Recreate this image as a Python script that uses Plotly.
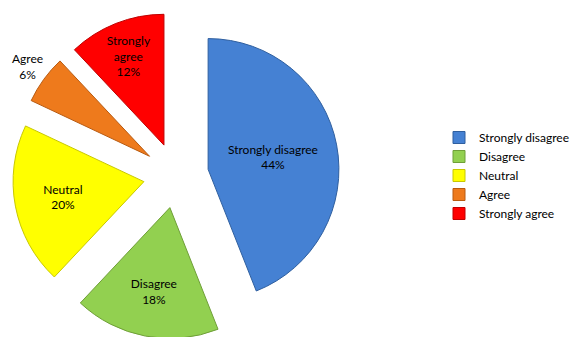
import plotly.graph_objects as go

labels = ["Strongly disagree", "Disagree", "Neutral", "Agree", "Strongly agree"]
values = [44, 18, 20, 6, 12]
colors = ["#4581d3", "#92d050", "#ffff00", "#ee7a1c", "#ff0000"]
edge_colors = ["#2f5f9f", "#6f9f38", "#c8c800", "#b85a10", "#c00000"]
templates = ["%{label}<br>%{percent}", "%{label}<br>%{percent}", "%{label}<br>%{percent}",
             "", "Strongly<br>agree<br>%{percent}"]
positions = ["inside", "inside", "inside", "none", "inside"]

total = sum(values)
agree_idx = labels.index("Agree")
agree_text = f"{labels[agree_idx]}<br>{round(values[agree_idx] / total * 100)}%"

fig = go.Figure(go.Pie(
    labels=labels,
    values=values,
    sort=False,
    direction="clockwise",
    rotation=0,
    pull=[0.25] * len(values),
    marker=dict(colors=colors, line=dict(color=edge_colors, width=1)),
    texttemplate=templates,
    textposition=positions,
    insidetextorientation="horizontal",
    textfont=dict(family="Lato", size=12, color="black"),
    domain=dict(x=[0, 0.5803], y=[0, 1]),
    automargin=False,
))

fig.add_annotation(
    text=agree_text, xref="paper", yref="paper",
    x=19 / 579, y=(337 - 6 - 58) / 327, xanchor="center", yanchor="middle",
    showarrow=False, align="center",
    font=dict(family="Lato", size=12, color="black"),
)

fig.update_layout(
    width=579, height=337,
    margin=dict(l=0, r=0, t=4, b=6, autoexpand=False),
    paper_bgcolor="white",
    showlegend=True,
    legend=dict(x=431 / 579, y=0.5, xanchor="left", yanchor="middle",
                font=dict(family="Lato", size=12, color="black"),
                itemwidth=30, tracegroupgap=0, bgcolor="rgba(0,0,0,0)"),
)

fig.write_html("out.html")
